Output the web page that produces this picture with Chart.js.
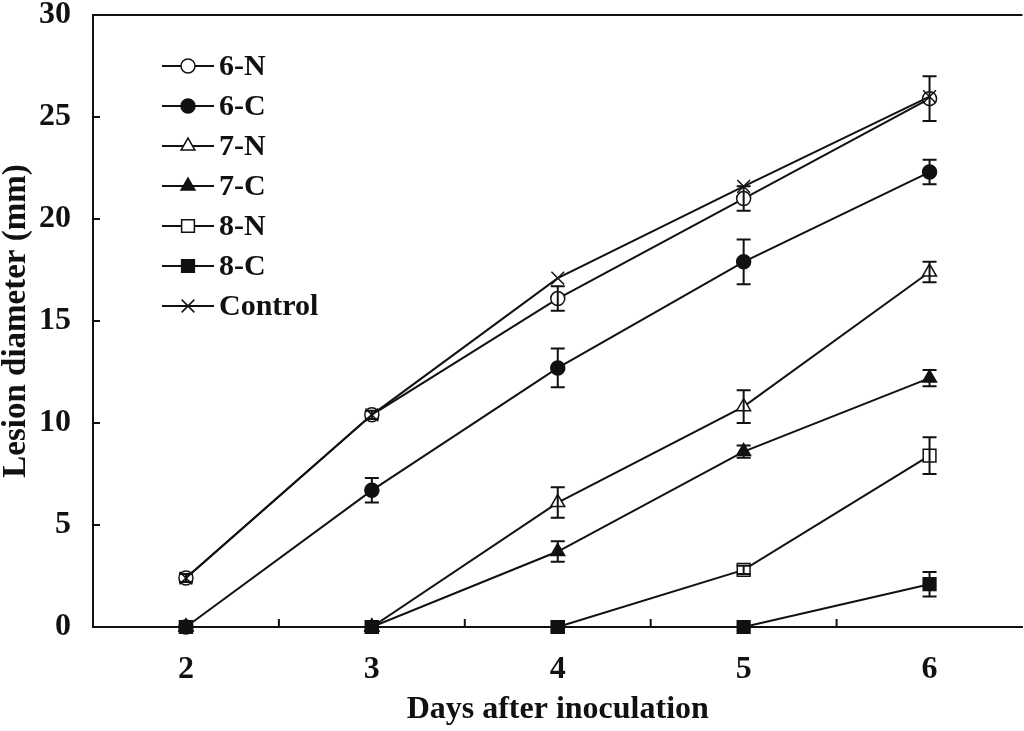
<!DOCTYPE html>
<html>
<head>
<meta charset="utf-8">
<script src="https://cdn.jsdelivr.net/npm/chart.js@4.4.1/dist/chart.umd.min.js"></script>
<style>
  html, body { margin: 0; padding: 0; background: #fff; overflow: hidden; }
  #wrap { width: 1033px; height: 731px; }
</style>
</head>
<body>
<div id="wrap"><canvas id="chart"></canvas></div>
<script>
const days = [2, 3, 4, 5, 6];
const xTicks = [2, 3, 4, 5, 6];
const yTicks = [0, 5, 10, 15, 20, 25, 30];

const seriesNames = ['6-N', '6-C', '7-N', '7-C', '8-N', '8-C', 'Control'];

const n6 = [2.4, 10.4, 16.1, 21.0, 25.9];
const c6 = [0, 6.7, 12.7, 17.9, 22.3];
const n7 = [0, 0, 6.1, 10.8, 17.4];
const c7 = [0, 0, 3.7, 8.6, 12.2];
const n8 = [0, 0, 0, 2.8, 8.4];
const c8 = [0, 0, 0, 0, 2.1];
const control = [2.4, 10.4, 17.1, 21.6, 26.0];

// standard errors (drawn as I-bars)
const n6Err = [0.2, 0.2, 0.6, 0.6, 1.1];
const c6Err = [0, 0.6, 0.95, 1.1, 0.6];
const n7Err = [0, 0, 0.75, 0.8, 0.5];
const c7Err = [0, 0, 0.5, 0.3, 0.4];
const n8Err = [0, 0, 0, 0.2, 0.9];
const c8Err = [0, 0, 0, 0, 0.6];
const controlErr = [0, 0, 0, 0, 0];

const serifFont = '"Liberation Serif", "Times New Roman", serif';

function makeSet(label, values, errs, style, fill, radius, order) {
    return {
        label: label,
        data: days.map((d, i) => ({ x: d, y: values[i] })),
        errors: errs,
        borderColor: '#111',
        borderWidth: 2,
        pointStyle: style,
        pointRadius: radius,
        pointHoverRadius: radius,
        pointBackgroundColor: fill,
        pointBorderColor: '#111',
        pointBorderWidth: 1.5,
        clip: false,
        order: order
    };
}

const datasets = [
    makeSet(seriesNames[0], n6, n6Err, 'circle', '#fff', 7, 6),
    makeSet(seriesNames[1], c6, c6Err, 'circle', '#111', 7, 5),
    makeSet(seriesNames[2], n7, n7Err, 'triangle', '#fff', 8, 4),
    makeSet(seriesNames[3], c7, c7Err, 'triangle', '#111', 8, 3),
    makeSet(seriesNames[4], n8, n8Err, 'rect', '#fff', 9, 2),
    makeSet(seriesNames[5], c8, c8Err, 'rect', '#111', 9, 1),
    makeSet(seriesNames[6], control, controlErr, 'crossRot', '#111', 9, 0)
];

// error bars, inward ticks and legend
const decorations = {
    id: 'decorations',
    afterDatasetsDraw(chart) {
        const ctx = chart.ctx;
        const xs = chart.scales.x;
        const ys = chart.scales.y;
        ctx.save();
        ctx.strokeStyle = '#111';
        ctx.lineWidth = 2;
        chart.data.datasets.forEach(ds => {
            ds.data.forEach((p, i) => {
                const e = ds.errors[i];
                if (!e) return;
                const px = xs.getPixelForValue(p.x);
                const top = ys.getPixelForValue(p.y + e);
                const bot = ys.getPixelForValue(p.y - e);
                ctx.beginPath();
                ctx.moveTo(px, top); ctx.lineTo(px, bot);
                ctx.moveTo(px - 7, top); ctx.lineTo(px + 7, top);
                ctx.moveTo(px - 7, bot); ctx.lineTo(px + 7, bot);
                ctx.stroke();
            });
        });

        const area = chart.chartArea;
        ctx.lineWidth = 2;
        // top frame line
        ctx.beginPath();
        ctx.moveTo(area.left, area.top);
        ctx.lineTo(area.right, area.top);
        ctx.stroke();
        // y ticks pointing in
        yTicks.forEach(v => {
            const py = ys.getPixelForValue(v);
            ctx.beginPath();
            ctx.moveTo(area.left, py); ctx.lineTo(area.left + 7, py);
            ctx.stroke();
        });
        // x ticks between days, pointing in
        for (let v = xs.min + 1; v < xs.max; v += 1) {
            const px = xs.getPixelForValue(v);
            ctx.beginPath();
            ctx.moveTo(px, area.bottom); ctx.lineTo(px, area.bottom - 8);
            ctx.stroke();
        }

        // legend
        const lx = 162, ly = 66, rowH = 40;
        ctx.font = 'bold 30px ' + serifFont;
        ctx.textBaseline = 'middle';
        chart.data.datasets.forEach((ds, i) => {
            const y = ly + i * rowH;
            ctx.strokeStyle = '#111';
            ctx.lineWidth = 2;
            ctx.beginPath();
            ctx.moveTo(lx, y); ctx.lineTo(lx + 52, y);
            ctx.stroke();
            ctx.lineWidth = ds.pointBorderWidth;
            ctx.fillStyle = ds.pointBackgroundColor;
            Chart.helpers.drawPoint(ctx, {
                pointStyle: ds.pointStyle,
                radius: ds.pointRadius,
                borderWidth: ds.pointBorderWidth
            }, lx + 26, y);
            ctx.fillStyle = '#111';
            ctx.fillText(ds.label, lx + 57, y + 1);
        });
        ctx.restore();
    }
};

new Chart(document.getElementById('chart'), {
    type: 'line',
    data: { datasets: datasets },
    options: {
        responsive: true,
        maintainAspectRatio: false,
        animation: false,
        layout: { padding: { top: 15, right: 0, left: 0, bottom: 0 } },
        plugins: {
            legend: { display: false },
            tooltip: { enabled: false }
        },
        scales: {
            x: {
                type: 'linear',
                min: 1.5,
                max: 6.5,
                afterBuildTicks: scale => {
                    scale.ticks = xTicks.map(v => ({ value: v }));
                },
                afterFit: scale => {
                    scale.height = 104;
                    scale.paddingLeft = 0;
                    scale.paddingRight = 0;
                },
                grid: { display: false },
                border: { display: true, color: '#111', width: 2 },
                ticks: {
                    color: '#111',
                    padding: 16,
                    font: { family: serifFont, size: 32, weight: 'bold' }
                },
                title: {
                    display: true,
                    text: 'Days after inoculation',
                    color: '#111',
                    padding: { top: 0, bottom: 2 },
                    font: { family: serifFont, size: 32, weight: 'bold' }
                }
            },
            y: {
                min: 0,
                max: 30,
                afterBuildTicks: scale => {
                    scale.ticks = yTicks.map(v => ({ value: v }));
                },
                afterFit: scale => {
                    scale.width = 93;
                    scale.paddingTop = 0;
                    scale.paddingBottom = 0;
                },
                grid: { display: false },
                border: { display: true, color: '#111', width: 2 },
                ticks: {
                    color: '#111',
                    padding: 14,
                    font: { family: serifFont, size: 32, weight: 'bold' }
                },
                title: {
                    display: true,
                    text: 'Lesion diameter (mm)',
                    color: '#111',
                    padding: { top: 0, bottom: 0 },
                    font: { family: serifFont, size: 33, weight: 'bold', lineHeight: 1 }
                }
            }
        }
    },
    plugins: [decorations]
});
</script>
</body>
</html>
